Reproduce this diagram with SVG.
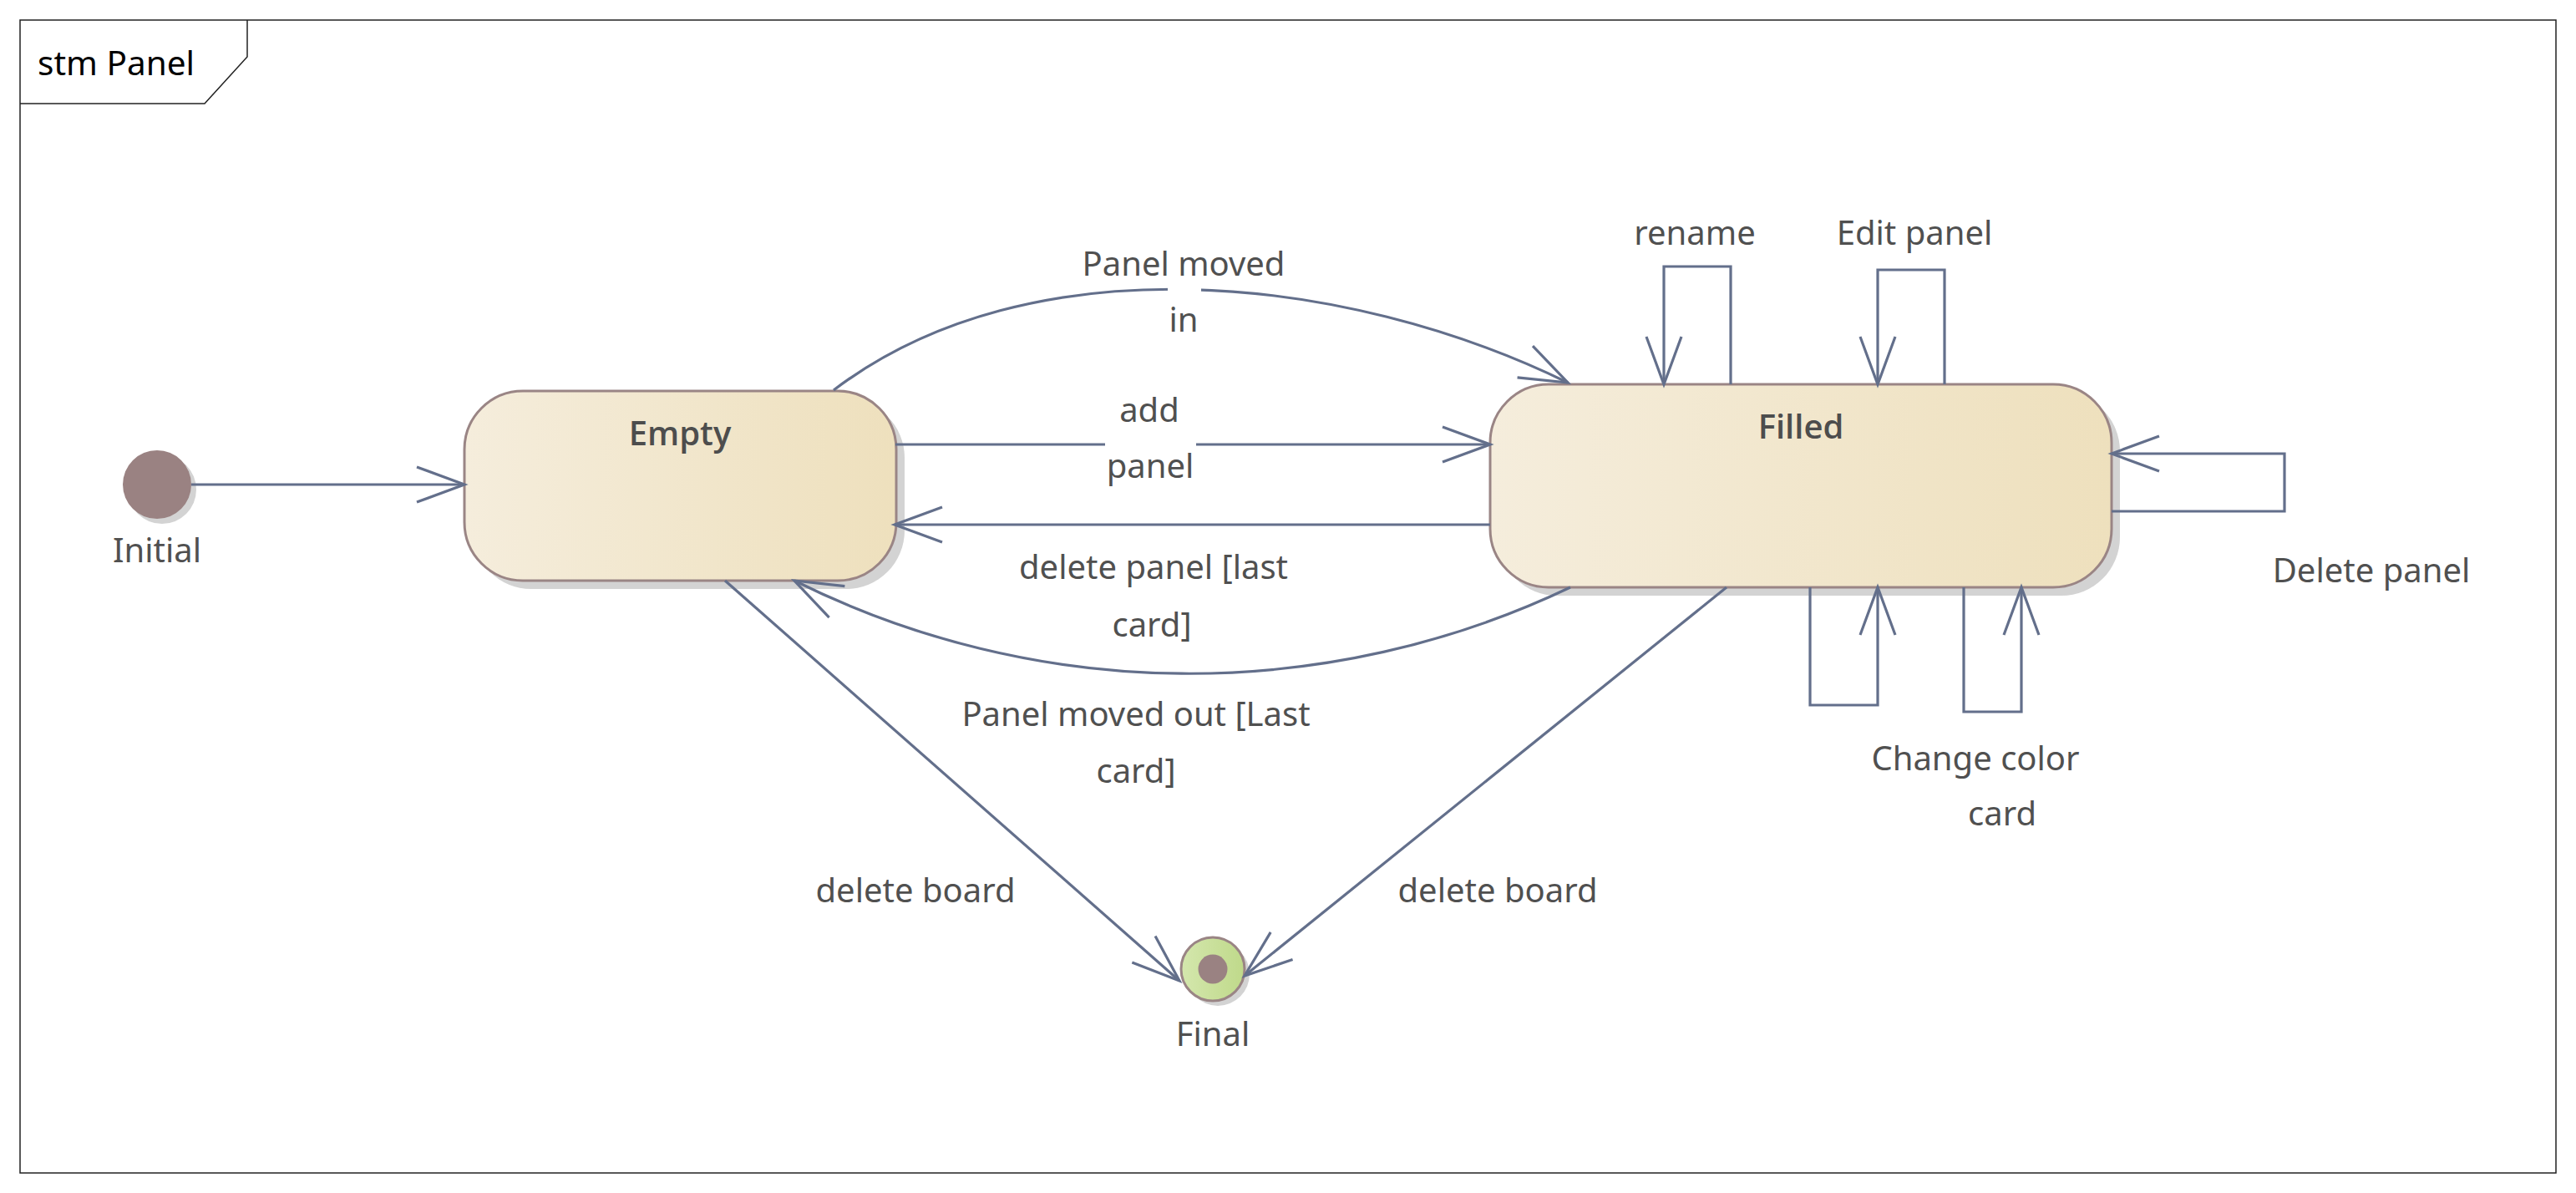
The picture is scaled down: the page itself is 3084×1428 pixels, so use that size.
<svg xmlns="http://www.w3.org/2000/svg" width="3084" height="1428" viewBox="0 0 3084 1428">
<style>
text{font-family:"Noto Sans","Open Sans","Liberation Sans",sans-serif;font-size:40px;fill:#505050;text-anchor:middle}
.title{fill:#000;text-anchor:start;font-size:40.5px}
.sname{font-family:"Open Sans","Noto Sans",sans-serif;font-weight:600;fill:#4d4d4d}
.edge{fill:none;stroke:#636f8b;stroke-width:3.2;marker-end:url(#arr)}
.shadow{fill:#d3d3d3}
.state{fill:url(#gState);stroke:#9a8585;stroke-width:3}
.bg{fill:#fff}
</style>
<defs>
<linearGradient id="gState" x1="0" y1="0" x2="1" y2="0">
<stop offset="0" stop-color="#f5eddc"/>
<stop offset="1" stop-color="#eee0bd"/>
</linearGradient>
<linearGradient id="gFinal" x1="0" y1="0" x2="1" y2="0">
<stop offset="0" stop-color="#d4e7ad"/>
<stop offset="1" stop-color="#bfd98a"/>
</linearGradient>
<marker id="arr" markerUnits="userSpaceOnUse" markerWidth="80" markerHeight="60" refX="0" refY="0" orient="auto" overflow="visible">
<path d="M-57,-21 L0,0 L-57,21" fill="none" stroke="#636f8b" stroke-width="3.2"/>
</marker>
</defs>
<rect width="3084" height="1428" fill="#fff"/>
<g id="frame">
<rect x="24" y="24" width="3036" height="1380" fill="none" stroke="#222" stroke-width="1.5"/>
<path d="M24,124 L245,124 L296,68 L296,24" fill="none" stroke="#222" stroke-width="1.5"/>
<text class="title" x="45" y="90">stm Panel</text>
</g>
<g id="Initial">
<circle cx="194" cy="586" r="41" class="shadow"/>
<circle cx="188" cy="580" r="41" fill="#9a8282"/>
<text x="188" y="673">Initial</text>
</g>
<g id="Empty">
<rect class="shadow" x="566" y="478" width="517" height="227" rx="70" ry="70"/>
<rect class="state" x="556" y="468" width="517" height="227" rx="70" ry="70"/>
<text class="sname" x="814" y="533">Empty</text>
</g>
<g id="Filled">
<rect class="shadow" x="1794" y="470" width="744" height="243" rx="70" ry="70"/>
<rect class="state" x="1784" y="460" width="744" height="243" rx="70" ry="70"/>
<text class="sname" x="2156" y="525">Filled</text>
</g>
<g id="Final">
<circle cx="1458" cy="1166" r="38" class="shadow"/>
<circle cx="1452" cy="1160" r="38" fill="url(#gFinal)" stroke="#9a8585" stroke-width="3"/>
<circle cx="1452" cy="1160" r="17.5" fill="#9a8282"/>
<text x="1452" y="1252">Final</text>
</g>
<g id="connectors">
<path class="edge" d="M229,580 L556,580"/>
<path class="edge" d="M998,467 C1233.6,288 1610.6,327.8 1877,458"/>
<path class="edge" d="M1072,532 L1784,532"/>
<path class="edge" d="M1784,628 L1071,628"/>
<path class="edge" d="M1880,703 A1060,1060 0 0 1 951,695"/>
<path class="edge" d="M868,695 L1412,1174"/>
<path class="edge" d="M2067,703 L1490,1168"/>
<path class="edge" d="M2072,460 L2072,319 L1992,319 L1992,460"/>
<path class="edge" d="M2328,460 L2328,323 L2248,323 L2248,460"/>
<path class="edge" d="M2528,612 L2735,612 L2735,543 L2528,543"/>
<path class="edge" d="M2167,703 L2167,844 L2248,844 L2248,703"/>
<path class="edge" d="M2351,703 L2351,852 L2420,852 L2420,703"/>
</g>
<g id="labels">
<rect class="bg" x="1398" y="336" width="40" height="22"/>
<text x="1417" y="330">Panel moved</text>
<text x="1417" y="397">in</text>
<rect class="bg" x="1323" y="520" width="109" height="24"/>
<text x="1376" y="505">add</text>
<text x="1377" y="572">panel</text>
<text x="1381" y="693">delete panel [last</text>
<text x="1379" y="762">card]</text>
<text x="1360" y="869">Panel moved out [Last</text>
<text x="1360" y="937">card]</text>
<text x="1096" y="1080">delete board</text>
<text x="1793" y="1080">delete board</text>
<text x="2029" y="293">rename</text>
<text x="2292" y="293">Edit panel</text>
<text x="2839" y="697">Delete panel</text>
<text x="2365" y="922">Change color</text>
<text x="2397" y="988">card</text>
</g>
</svg>
